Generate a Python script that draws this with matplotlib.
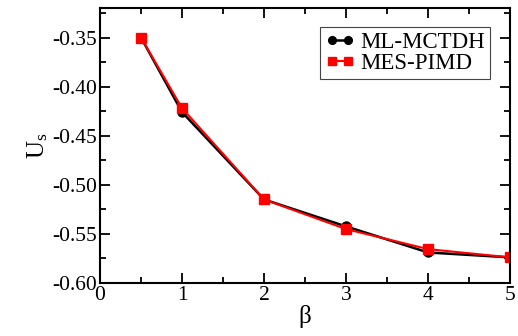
import numpy as np
import matplotlib.pyplot as plt
from matplotlib.ticker import MultipleLocator, FormatStrFormatter

plt.rcParams['font.family'] = 'Liberation Serif'
plt.rcParams['axes.unicode_minus'] = False
plt.rcParams['mathtext.fontset'] = 'custom'
plt.rcParams['mathtext.rm'] = 'Liberation Serif'
plt.rcParams['mathtext.it'] = 'Liberation Serif'

beta = [0.5, 1, 2, 3, 4, 5]
ml_mctdh = [-0.350, -0.426, -0.515, -0.5425, -0.569, -0.574]
mes_pimd = [-0.350, -0.422, -0.515, -0.5452, -0.5656, -0.574]

fig = plt.figure(figsize=(5.18, 3.36), dpi=100)
ax = fig.add_axes([0.193, 0.158, 0.792, 0.818])

ax.plot(beta, ml_mctdh, '-o', color='black', lw=1.8, ms=6.5, label='ML-MCTDH')
ax.plot(beta, mes_pimd, '-s', color='red', lw=1.5, ms=6.5, label='MES-PIMD')

ax.set_xlim(0, 5)
ax.set_ylim(-0.6, -0.32)
ax.xaxis.set_major_locator(MultipleLocator(1))
ax.xaxis.set_minor_locator(MultipleLocator(0.5))
ax.yaxis.set_major_locator(MultipleLocator(0.05))
ax.yaxis.set_minor_locator(MultipleLocator(0.025))
ax.yaxis.set_major_formatter(FormatStrFormatter('%.2f'))
ax.xaxis.set_major_formatter(FormatStrFormatter('%d'))
ax.tick_params(which='both', direction='in', top=True, right=True, width=1.3)
ax.tick_params(which='major', length=7, labelsize=15.5, pad=2)
ax.tick_params(which='minor', length=4)
for s in ax.spines.values():
    s.set_linewidth(1.5)

ax.set_xlabel('β', fontsize=18, labelpad=0)
ax.set_ylabel(r'U$_\mathrm{s}$', fontsize=18, labelpad=2)

leg = ax.legend(loc='upper right', bbox_to_anchor=(0.95, 0.93), fontsize=16.5,
                fancybox=False, framealpha=1, edgecolor='#444444',
                numpoints=2, markerscale=0.85,
                handlelength=1.3, handletextpad=0.25, borderpad=0.2,
                labelspacing=0.0, borderaxespad=0)
leg.get_frame().set_linewidth(0.8)

plt.savefig('out.png')
